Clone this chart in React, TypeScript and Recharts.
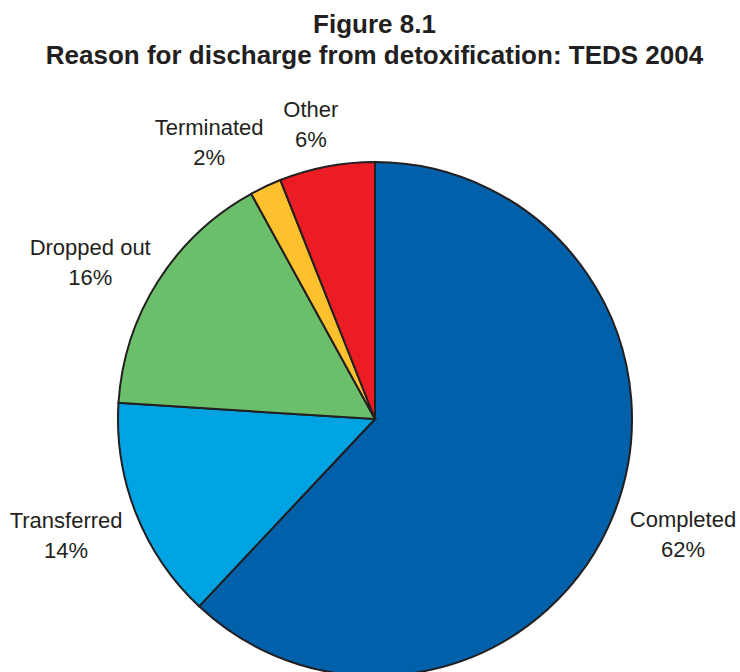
import { PieChart, Pie, Cell } from 'recharts';

const reasons = ['Completed', 'Transferred', 'Dropped out', 'Terminated', 'Other'];
const shares = [62, 14, 16, 2, 6];
const colors = ['#0061AA', '#00A3E1', '#6CBF6A', '#FDC12E', '#EC1C24'];

// where each label sits relative to its slice (distance from centre, angle nudge)
const labelSpot: Record<string, { r: number; dA: number }> = {
  Completed: { r: 329, dA: 1.0 },
  Transferred: { r: 330, dA: -1.0 },
  'Dropped out': { r: 325, dA: 3.6 },
  Terminated: { r: 322, dA: 5.8 },
  Other: { r: 301, dA: 1.5 },
};

const data = reasons.map((name, i) => ({ name, value: shares[i] }));

const RAD = Math.PI / 180;
const font = '"Liberation Sans", Arial, sans-serif';

function renderLabel(props: any) {
  const { cx, cy, midAngle, name, value } = props;
  const spot = labelSpot[name];
  const a = (midAngle + spot.dA) * RAD;
  const x = cx + spot.r * Math.cos(-a);
  const y = cy + spot.r * Math.sin(-a);
  return (
    <text x={x} y={y} textAnchor="middle" fill="#231F20" fontSize={22} fontFamily={font}>
      <tspan x={x} y={y - 15} dominantBaseline="central">{name}</tspan>
      <tspan x={x} y={y + 15} dominantBaseline="central">{value}%</tspan>
    </text>
  );
}

export default function App() {
  return (
    <div style={{ position: 'relative', width: 740, height: 672, background: '#fff', overflow: 'hidden' }}>
      <style>{'body{margin:0}'}</style>
      <div
        style={{
          position: 'absolute',
          top: 9,
          left: 0,
          width: 749,
          textAlign: 'center',
          fontFamily: font,
          fontWeight: 'bold',
          fontSize: 26,
          lineHeight: '31px',
          color: '#231F20',
          whiteSpace: 'nowrap',
        }}
      >
        <div>Figure 8.1</div>
        <div>Reason for discharge from detoxification: TEDS 2004</div>
      </div>
      <PieChart width={740} height={672} margin={{ top: 0, right: 0, bottom: 0, left: 0 }}>
        <Pie
          data={data}
          dataKey="value"
          nameKey="name"
          cx={375}
          cy={419}
          outerRadius={257}
          startAngle={90}
          endAngle={-270}
          stroke="#231F20"
          strokeWidth={2}
          label={renderLabel}
          labelLine={false}
          isAnimationActive={false}
        >
          {data.map((d, i) => (
            <Cell key={d.name} fill={colors[i]} />
          ))}
        </Pie>
      </PieChart>
    </div>
  );
}
